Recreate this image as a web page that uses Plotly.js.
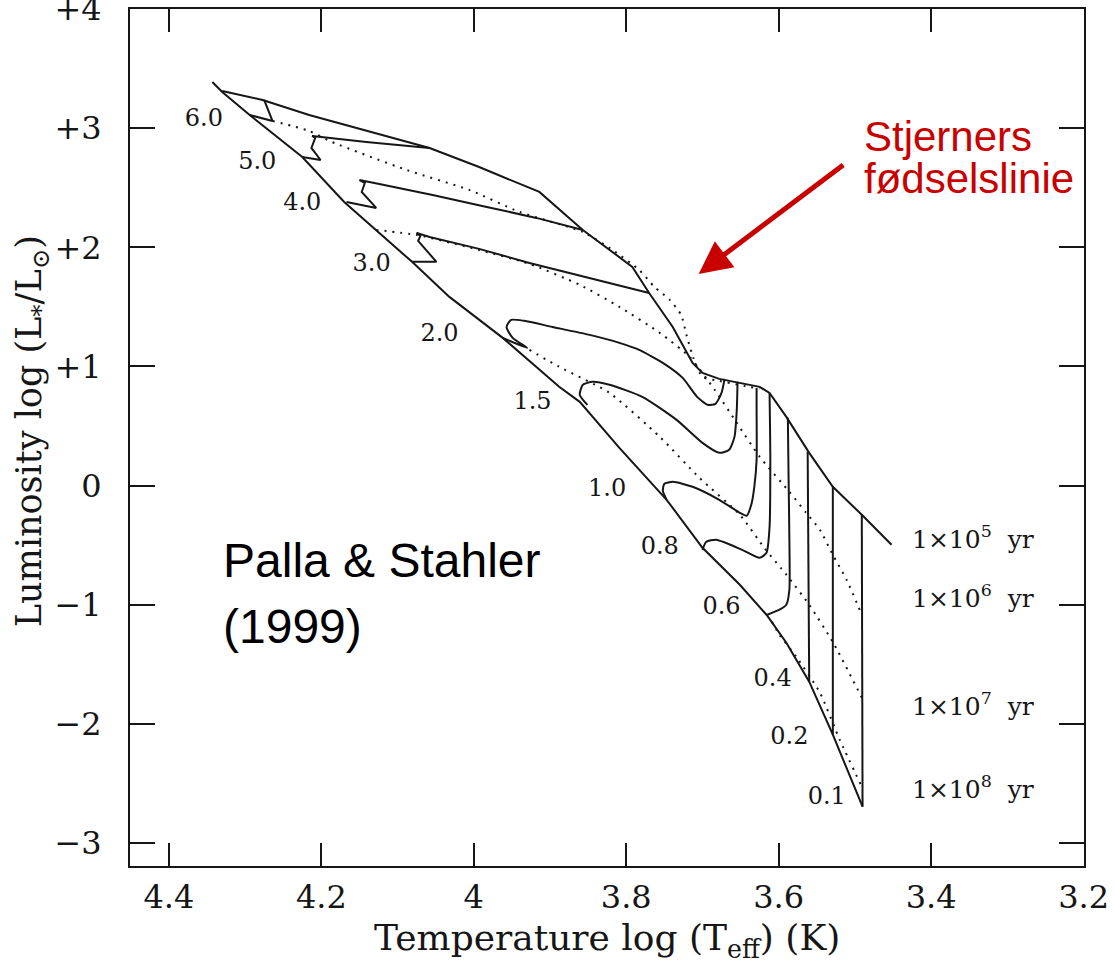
<!DOCTYPE html>
<html><head><meta charset="utf-8">
<script src="https://cdn.plot.ly/plotly-3.0.1.min.js"></script>
<style>html,body{margin:0;padding:0;background:#fff}#chart{width:1115px;height:965px}</style>
</head><body><div id="chart"></div>
<script>
// Zero-age main sequence (lower envelope)
const zamsLogT = [4.343,4.330,4.294,4.225,4.170,4.128,4.081,4.032,3.962,3.888,3.861,3.809,3.747,3.700,3.651,3.616,3.590,3.560,3.529,3.490];
const zamsLogL = [3.388,3.304,3.111,2.758,2.381,2.146,1.878,1.584,1.240,0.829,0.703,0.317,-0.119,-0.522,-0.832,-1.084,-1.319,-1.646,-2.091,-2.695];
// Birthline (upper envelope)
const birthLogT = [4.330,4.277,4.216,4.058,3.993,3.914,3.857,3.792,3.770,3.739,3.713,3.700,3.678,3.625,3.612,3.590,3.560,3.529,3.491,3.452];
const birthLogL = [3.312,3.237,3.111,2.834,2.674,2.465,2.146,1.836,1.617,1.332,1.030,0.946,0.896,0.829,0.778,0.577,0.275,-0.010,-0.245,-0.497];
// Evolutionary tracks (solar masses)
const track60T = [4.275,4.264,4.294];
const track60L = [3.237,3.060,3.111];
const track50T = [4.058,4.141,4.212,4.208,4.213,4.201,4.225];
const track50L = [2.834,2.884,2.935,2.918,2.834,2.733,2.758];
const track40T = [3.857,3.918,3.983,4.054,4.124,4.150,4.143,4.147,4.128,4.167];
const track40L = [2.146,2.247,2.339,2.440,2.532,2.565,2.540,2.465,2.331,2.381];
const track30T = [3.770,3.848,3.927,3.993,4.058,4.075,4.070,4.073,4.049,4.081];
const track30L = [1.617,1.743,1.869,1.987,2.087,2.121,2.096,2.054,1.878,1.878];
const track20T = [3.671,3.675,3.683,3.693,3.707,3.726,3.750,3.783,3.809,3.848,3.897,3.934,3.951,3.957,3.949,3.930,3.962];
const track20L = [0.896,0.778,0.686,0.678,0.745,0.904,1.022,1.139,1.198,1.265,1.332,1.383,1.391,1.332,1.240,1.156,1.240];
const track15T = [3.654,3.655,3.658,3.665,3.678,3.700,3.734,3.779,3.822,3.844,3.857,3.861,3.851];
const track15L = [0.871,0.636,0.409,0.300,0.275,0.359,0.552,0.745,0.846,0.871,0.846,0.762,0.678];
const track10T = [3.629,3.629,3.629,3.632,3.636,3.642,3.651,3.678,3.713,3.739,3.750,3.752,3.747];
const track10L = [0.820,0.636,0.216,-0.010,-0.161,-0.253,-0.228,-0.119,-0.010,0.032,0.015,-0.044,-0.119];
const track08T = [3.612,3.611,3.612,3.616,3.625,3.648,3.682,3.695,3.700];
const track08L = [0.778,0.216,-0.346,-0.564,-0.606,-0.539,-0.455,-0.472,-0.539];
const track06T = [3.588,3.587,3.586,3.586,3.590,3.599,3.615];
const track06L = [0.569,0.049,-0.455,-0.874,-1.000,-1.042,-1.084];
const track04T = [3.562,3.560];
const track04L = [0.284,-1.646];
const track02T = [3.529,3.529];
const track02L = [-0.010,-2.091];
const track01T = [3.491,3.490];
const track01L = [-0.245,-2.695];
// Isochrones (dotted)
const iso1T = [4.264,4.216,4.186,4.088,4.006,3.940,3.857,3.818,3.783,3.763,3.743,3.728,3.721,3.712,3.700,3.678,3.625];
const iso1L = [3.060,2.977,2.884,2.649,2.482,2.297,2.129,1.978,1.810,1.668,1.559,1.433,1.265,1.072,0.913,0.879,0.812];
const iso2T = [4.128,4.075,3.993,3.927,3.861,3.809,3.756,3.717,3.684,3.655,3.625,3.586,3.564,3.546,3.529,3.511,3.491];
const iso2L = [2.146,2.104,1.978,1.861,1.685,1.500,1.282,1.081,0.804,0.527,0.242,-0.052,-0.228,-0.371,-0.581,-0.790,-1.084];
const iso3T = [3.927,3.888,3.822,3.756,3.704,3.651,3.619,3.590,3.560,3.527,3.491];
const iso3L = [1.139,0.997,0.778,0.409,0.065,-0.245,-0.522,-0.748,-1.000,-1.336,-1.780];
const iso4T = [3.609,3.599,3.577,3.546,3.520,3.491];
const iso4L = [-1.143,-1.252,-1.436,-1.738,-2.133,-2.527];
// Mass labels
const massLabels = ['6.0','5.0','4.0','3.0','2.0','1.5','1.0','0.8','0.6','0.4','0.2','0.1'];
const massLabelT = [4.354,4.284,4.225,4.134,4.045,3.923,3.825,3.756,3.675,3.608,3.586,3.537];
const massLabelL = [3.069,2.708,2.364,1.852,1.265,0.695,-0.035,-0.522,-1.025,-1.629,-2.116,-2.619];
// Age labels
const ageExponents = ['5','6','7','8'];
const ageLabelL = [-0.438,-0.933,-1.839,-2.535];
const ageLabelT = 3.428;
// Axes
const xTickVals = [4.4,4.2,4.0,3.8,3.6,3.4,3.2];
const xTickText = ['4.4','4.2','4','3.8','3.6','3.4','3.2'];
const yTickVals = [4,3,2,1,0,-1,-2,-3];
const yTickText = ['+4','+3','+2','+1','0','\u22121','\u22122','\u22123'];

const INK = '#161616';
const SERIF = 'DejaVu Serif, serif';
const SANS = 'Liberation Sans, Arial, sans-serif';
const solid = {color: INK, width: 2};
const dotted = {color: INK, width: 2, dash: '2px,6px'};

function line(x, y, style, shape) {
  return {x: x, y: y, type: 'scatter', mode: 'lines', hoverinfo: 'skip', cliponaxis: false,
          line: Object.assign({}, style, {shape: shape || 'linear', smoothing: 0.6})};
}

const traces = [
  line(zamsLogT, zamsLogL, solid),
  line(birthLogT, birthLogL, solid),
  line(track60T, track60L, solid),
  line(track50T, track50L, solid),
  line(track40T, track40L, solid),
  line(track30T, track30L, solid),
  line(track20T, track20L, solid, 'spline'),
  line(track15T, track15L, solid, 'spline'),
  line(track10T, track10L, solid, 'spline'),
  line(track08T, track08L, solid, 'spline'),
  line(track06T, track06L, solid, 'spline'),
  line(track04T, track04L, solid),
  line(track02T, track02L, solid),
  line(track01T, track01L, solid),
  line(iso1T, iso1L, dotted, 'spline'),
  line(iso2T, iso2L, dotted, 'spline'),
  line(iso3T, iso3L, dotted, 'spline'),
  line(iso4T, iso4L, dotted, 'spline'),
  {x: massLabelT, y: massLabelL, text: massLabels, type: 'scatter', mode: 'text',
   textposition: 'middle center', hoverinfo: 'skip',
   textfont: {family: SERIF, size: 24, color: INK}}
];

const annotations = [];
ageExponents.forEach((e, i) => {
  annotations.push({x: ageLabelT, y: ageLabelL[i], xref: 'x', yref: 'y', xanchor: 'left', yanchor: 'middle',
    showarrow: false, text: '1\u00d710<sup>' + e + '</sup>\u00a0 yr',
    font: {family: SERIF, size: 25, color: INK}});
});
annotations.push(
  {x: 0.5, y: -0.0875, xref: 'paper', yref: 'paper', xanchor: 'center', yanchor: 'middle', showarrow: false,
   text: 'Temperature log (T<sub>eff</sub>) (K)', font: {family: SERIF, size: 36, color: INK}},
  {x: -0.103, y: 0.507, xref: 'paper', yref: 'paper', xanchor: 'center', yanchor: 'middle', showarrow: false,
   textangle: -90, text: 'Luminosity log (L<sub>*</sub>/L<sub>\u2299</sub>)', font: {family: SERIF, size: 35, color: INK}},
  {x: 4.331, y: -0.631, xref: 'x', yref: 'y', xanchor: 'left', yanchor: 'middle', showarrow: false,
   text: 'Palla &amp; Stahler', font: {family: SANS, size: 48, color: '#000'}},
  {x: 4.331, y: -1.185, xref: 'x', yref: 'y', xanchor: 'left', yanchor: 'middle', showarrow: false,
   text: '(1999)', font: {family: SANS, size: 48, color: '#000'}},
  {x: 3.491, y: 2.93, xref: 'x', yref: 'y', xanchor: 'left', yanchor: 'middle', showarrow: false,
   text: 'Stjerners', font: {family: SANS, size: 42, color: '#c80000'}},
  {x: 3.491, y: 2.578, xref: 'x', yref: 'y', xanchor: 'left', yanchor: 'middle', showarrow: false,
   text: 'fødselslinie', font: {family: SANS, size: 42, color: '#c80000'}},
  {x: 3.705, y: 1.777, xref: 'x', yref: 'y', ax: 146, ay: -110, axref: 'pixel', ayref: 'pixel',
   showarrow: true, arrowhead: 2, arrowsize: 1.3, arrowwidth: 5, arrowcolor: '#c80000', text: '', standoff: 0}
);

const axisCommon = {
  ticks: 'inside', tickwidth: 2, tickcolor: INK, showline: true, linewidth: 2, linecolor: INK,
  mirror: 'ticks', showgrid: false, zeroline: false, tickmode: 'array', ticklabeloverflow: 'allow',
  tickfont: {family: SERIF, size: 32, color: INK}
};
const layout = {
  width: 1115, height: 965,
  margin: {l: 130, r: 31, t: 9, b: 99, pad: 0},
  paper_bgcolor: '#ffffff', plot_bgcolor: '#ffffff',
  showlegend: false,
  xaxis: Object.assign({}, axisCommon, {range: [4.451, 3.1995], tickvals: xTickVals, ticktext: xTickText,
    ticklen: 23, ticklabelstandoff: 2}),
  yaxis: Object.assign({}, axisCommon, {range: [-3.193, 4.0005], tickvals: yTickVals, ticktext: yTickText,
    ticklen: 25, ticklabelstandoff: 20}),
  annotations: annotations
};
Plotly.newPlot('chart', traces, layout, {staticPlot: true, displayModeBar: false});
</script>
</body></html>
